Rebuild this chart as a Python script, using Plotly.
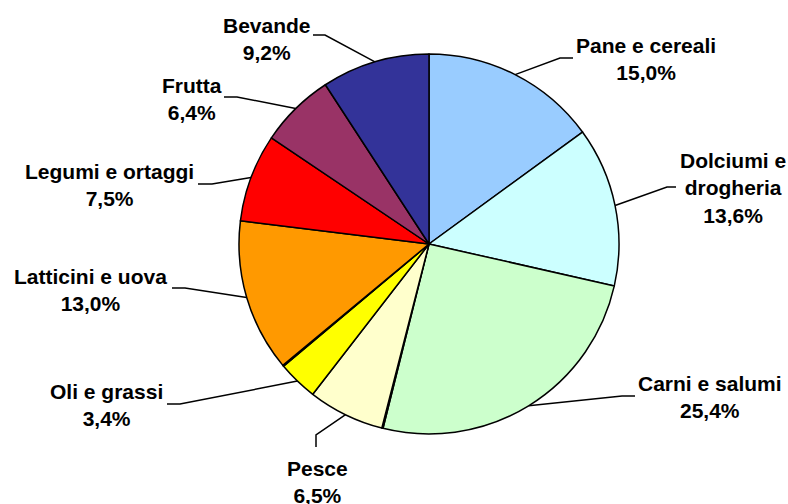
import math
import plotly.graph_objects as go

# ---- data ----
categories = ["Pane e cereali", "Dolciumi e drogheria", "Carni e salumi", "", "Pesce",
              "Oli e grassi", "", "Latticini e uova", "Legumi e ortaggi", "Frutta", "Bevande"]
label_text = ["Pane e cereali", "Dolciumi e<br>drogheria", "Carni e salumi", "", "Pesce",
              "Oli e grassi", "", "Latticini e uova", "Legumi e ortaggi", "Frutta", "Bevande"]
values = [15.0, 13.6, 25.4, 0.1, 6.5, 3.4, 0.1, 13.0, 7.5, 6.4, 9.2]
colors = ["#99CCFF", "#CCFFFF", "#CCFFCC", "#808080", "#FFFFCC",
          "#FFFF00", "#808080", "#FF9900", "#FF0000", "#993366", "#333399"]

# ---- layout (pixel geometry) ----
W, H = 788, 504
CX, CY, R = 429, 244, 190
# label block centers (x, y) in pixels
label_pos = [(646, 59), (733, 188), (710, 397), None, (317, 482),
             (106, 404.5), None, (90, 289.5), (109, 184.5), (192, 98.5), (267, 38.5)]
# leader lines: elbow point and end point near the label
leader_elbow = [(560, 58), (667, 187), (622, 396), None, (316, 435),
                (180, 404), None, (185, 288), (212, 184), (237, 97), (325, 35)]
leader_end = [(573, 58), (676, 187), (635, 396), None, (316, 447),
              (167, 404), None, (172, 288), (198, 184), (224, 97), (313, 35)]

FONT = dict(family="Liberation Sans, Arial, sans-serif", size=21, color="black", weight="bold")

fig = go.Figure()

total = sum(values)
cum = 0.0
for i, v in enumerate(values):
    mid = (cum + v / 2) / total * 2 * math.pi
    cum += v
    if label_pos[i] is None:
        continue
    ex = CX + R * math.sin(mid)
    ey = CY - R * math.cos(mid)
    (bx, by), (tx, ty) = leader_elbow[i], leader_end[i]
    fig.add_trace(go.Scatter(x=[ex, bx, tx], y=[ey, by, ty], mode="lines",
                             line=dict(color="black", width=1.5),
                             hoverinfo="skip", showlegend=False))
    pct = f"{v:.1f}".replace(".", ",") + "%"
    fig.add_annotation(x=label_pos[i][0], y=label_pos[i][1], xref="x", yref="y",
                       text=f"{label_text[i]}<br>{pct}", showarrow=False,
                       xanchor="center", yanchor="middle", align="center", font=FONT)

fig.add_trace(go.Pie(
    labels=[c if c else f"_{k}" for k, c in enumerate(categories)],
    values=values, sort=False, direction="clockwise", rotation=0,
    marker=dict(colors=colors, line=dict(color="black", width=1.5)),
    textinfo="none", showlegend=False, hoverinfo="label+value",
    domain=dict(x=[(CX - R) / W, (CX + R) / W],
                y=[(H - CY - R) / H, (H - CY + R) / H]),
))

fig.update_layout(
    width=W, height=H, margin=dict(l=0, r=0, t=0, b=0),
    paper_bgcolor="white", plot_bgcolor="white",
    xaxis=dict(range=[0, W], visible=False, fixedrange=True),
    yaxis=dict(range=[H, 0], visible=False, fixedrange=True),
    showlegend=False,
)

fig.write_html("out.html")
